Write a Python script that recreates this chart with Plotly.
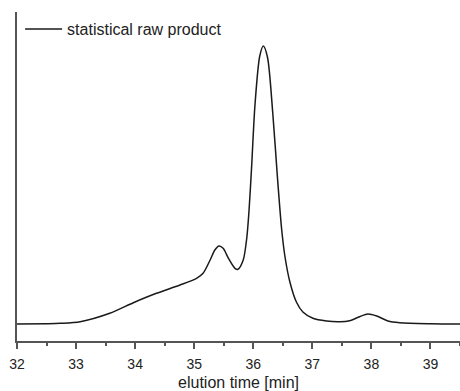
import plotly.graph_objects as go

# elution time [min] and detector signal (arbitrary units)
time_min = [32.0, 32.5, 32.73, 33.07, 33.57, 33.97, 34.36, 34.76, 35.04, 35.15,
            35.27, 35.35, 35.42, 35.49, 35.58, 35.69, 35.74, 35.83, 35.89, 35.93,
            35.97, 36.03, 36.11, 36.17, 36.24, 36.33, 36.41, 36.48, 36.535, 36.62,
            36.73, 36.84, 37.01, 37.24, 37.47, 37.63, 37.80, 37.94, 38.09, 38.28,
            38.48, 39.0, 39.5]
signal = [0, 0.3, 0.7, 2.3, 10.7, 21.3, 30.7, 39, 45.7, 50.7,
          64, 74, 78, 75.7, 65.7, 55.7, 54.7, 64, 86, 115,
          155, 220, 268, 278, 267, 211, 146, 95, 68, 42,
          22, 12, 5.7, 3, 2.3, 3.3, 7.3, 10, 8, 3,
          1.3, 0.3, 0]
series_name = "statistical raw product"
x_ticks = [32, 33, 34, 35, 36, 37, 38, 39]

fig = go.Figure()
fig.add_trace(go.Scatter(
    x=time_min, y=signal, mode="lines", name=series_name,
    line=dict(color="#1a1a1a", width=1.5, shape="spline", smoothing=0.8),
))

fig.update_layout(
    width=460, height=391,
    margin=dict(l=17, r=0, t=12, b=50),
    paper_bgcolor="white", plot_bgcolor="white",
    font=dict(family="Liberation Sans, Arial, sans-serif", size=14, color="#222"),
    showlegend=True,
    legend=dict(x=0.007, y=1.0, xanchor="left", yanchor="top",
                bgcolor="rgba(0,0,0,0)", font=dict(size=16, color="#222"),
                itemwidth=37),
    xaxis=dict(
        range=[32, 39.5], tickvals=x_ticks, ticktext=[str(t) for t in x_ticks],
        showline=True, linecolor="#555", linewidth=1.5, mirror=False,
        ticks="outside", ticklen=6, tickwidth=1.5, tickcolor="#555",
        ticklabelstandoff=3,
        minor=dict(dtick=0.5, ticks="outside", ticklen=3, tickwidth=1.5, tickcolor="#555"),
        showgrid=False, zeroline=False, automargin=False,
        title=dict(text="elution time [min]", font=dict(size=16), standoff=9),
        tickfont=dict(size=14),
    ),
    yaxis=dict(
        range=[-17, 312], showline=True, linecolor="#555", linewidth=1.5,
        showticklabels=False, ticks="", showgrid=False, zeroline=False,
        automargin=False,
    ),
)

fig.write_html("out.html")
